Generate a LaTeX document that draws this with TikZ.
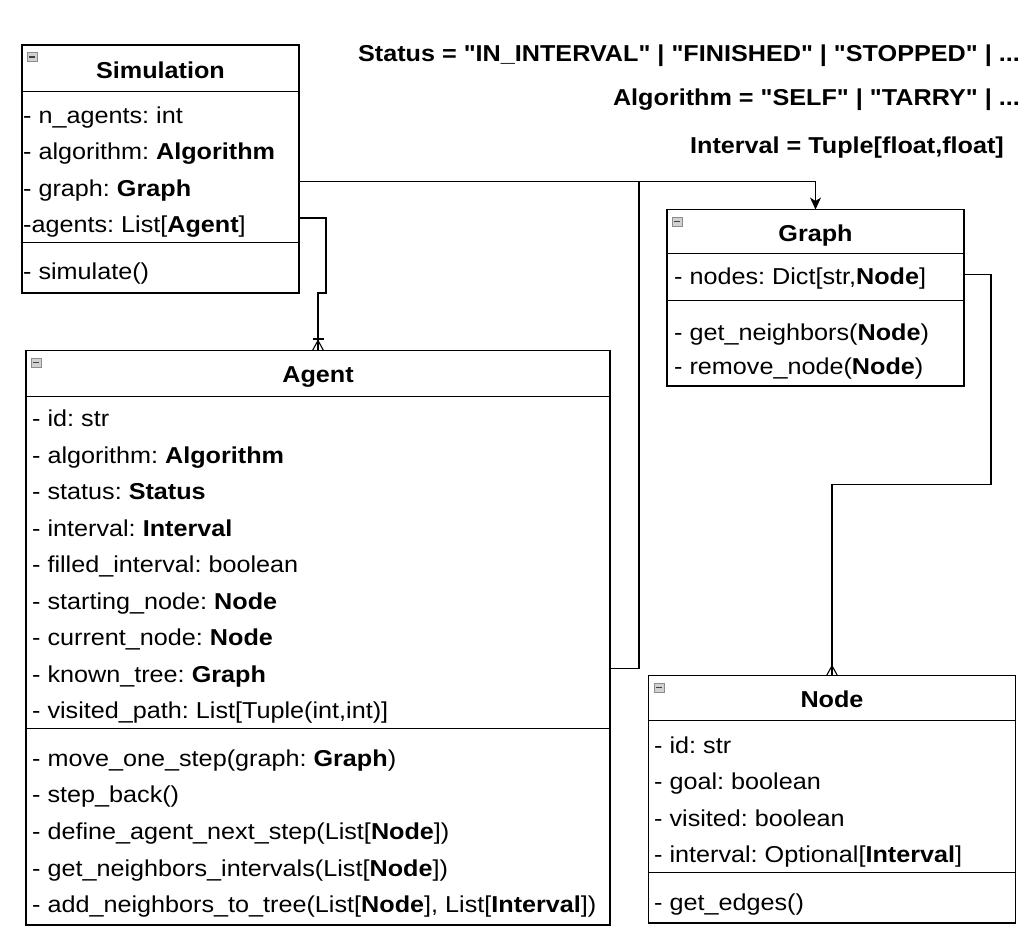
\documentclass[tikz,border=0pt]{standalone}
\usepackage{fontspec}
\setmainfont{Liberation Sans}[FakeStretch=1.095,Ligatures=TeXOff]
\usetikzlibrary{calc,arrows.meta}
\frenchspacing

\begin{document}
\begin{tikzpicture}[x=1pt,y=-1pt,>={Stealth[length=12pt,width=11pt,inset=3.5pt]},
	font=\fontsize{23}{28}\selectfont,
	classbox/.style={draw,line width=1.2pt,anchor=north west,inner sep=0pt,outer sep=0pt},
	row/.style={anchor=base west,inner sep=0pt},
	head/.style={anchor=base,inner sep=0pt,font=\fontsize{23}{28}\selectfont\bfseries},
	typedef/.style={anchor=base east,inner sep=0pt,font=\fontsize{23}{28}\selectfont\bfseries},
	minusbox/.style={draw=black!45,fill=black!18,line width=0.6pt,anchor=north west,inner sep=0pt,minimum width=10pt,minimum height=9pt},
	link/.style={line width=1.1pt}]
	\useasboundingbox (0,0) rectangle (1032,940);

	% type definitions on the top right
	\node[typedef] (StatusDef) at (1020,61.7) {Status = "IN\_INTERVAL" | "FINISHED" | "STOPPED" | ...};
	\node[typedef] (AlgoDef) at (1020,105) {Algorithm = "SELF" | "TARRY" | ...};
	\node[typedef] (IntervalDef) at (1004,153) {Interval = Tuple[float,float]};

	% Simulation class
	\node[classbox,minimum width=277pt,minimum height=248pt] (Sim) at (22,45) {};
	\node[head] (SimT) at (Sim.north |- 0,78.5) {Simulation};
	\draw (Sim.west |- 0,91) -- (Sim.east |- 0,91);
	\node[row] (SimA1) at (23,123.3) {- n\_agents: int};
	\node[row] (SimA2) at (23,159.3) {- algorithm: \textbf{Algorithm}};
	\node[row] (SimA3) at (23,196) {- graph: \textbf{Graph}};
	\node[row] (SimA4) at (23,232.7) {-agents: List[\textbf{Agent}]};
	\draw (Sim.west |- 0,242) -- (Sim.east |- 0,242);
	\node[row] (SimM1) at (23,279.3) {- simulate()};

	% Agent class
	\node[classbox,minimum width=584pt,minimum height=574.5pt] (Agent) at (26,350.5) {};
	\node[head] (AgentT) at (Agent.north |- 0,382.5) {Agent};
	\draw (Agent.west |- 0,396) -- (Agent.east |- 0,396);
	\node[row] (AgentA1) at (32,426.5) {- id: str};
	\node[row] (AgentA2) at (32,463) {- algorithm: \textbf{Algorithm}};
	\node[row] (AgentA3) at (32,499.5) {- status: \textbf{Status}};
	\node[row] (AgentA4) at (32,536) {- interval: \textbf{Interval}};
	\node[row] (AgentA5) at (32,572.5) {- filled\_interval: boolean};
	\node[row] (AgentA6) at (32,609) {- starting\_node: \textbf{Node}};
	\node[row] (AgentA7) at (32,645.5) {- current\_node: \textbf{Node}};
	\node[row] (AgentA8) at (32,682) {- known\_tree: \textbf{Graph}};
	\node[row] (AgentA9) at (32,718.5) {- visited\_path: List[Tuple(int,int)]};
	\draw (Agent.west |- 0,728.5) -- (Agent.east |- 0,728.5);
	\node[row] (AgentM1) at (32,766) {- move\_one\_step(graph: \textbf{Graph})};
	\node[row] (AgentM2) at (32,802.7) {- step\_back()};
	\node[row] (AgentM3) at (32,839.3) {- define\_agent\_next\_step(List[\textbf{Node}])};
	\node[row] (AgentM4) at (32,876) {- get\_neighbors\_intervals(List[\textbf{Node}])};
	\node[row] (AgentM5) at (32,912.7) {- add\_neighbors\_to\_tree(List[\textbf{Node}], List[\textbf{Interval}])};

	% Graph class
	\node[classbox,minimum width=297pt,minimum height=176.5pt] (Graph) at (667,209.5) {};
	\node[head] (GraphT) at (Graph.north |- 0,241.7) {Graph};
	\draw (Graph.west |- 0,252.7) -- (Graph.east |- 0,252.7);
	\node[row] (GraphA1) at (674,284) {- nodes: Dict[str,\textbf{Node}]};
	\draw (Graph.west |- 0,300) -- (Graph.east |- 0,300);
	\node[row] (GraphM1) at (674,340) {- get\_neighbors(\textbf{Node})};
	\node[row] (GraphM2) at (674,374) {- remove\_node(\textbf{Node})};

	% Node class
	\node[classbox,minimum width=367pt,minimum height=247.3pt] (Node) at (648.5,675.7) {};
	\node[head] (NodeT) at (Node.north |- 0,707.3) {Node};
	\draw (Node.west |- 0,720) -- (Node.east |- 0,720);
	\node[row] (NodeA1) at (654,753.3) {- id: str};
	\node[row] (NodeA2) at (654,789.3) {- goal: boolean};
	\node[row] (NodeA3) at (654,826) {- visited: boolean};
	\node[row] (NodeA4) at (654,862.7) {- interval: Optional[\textbf{Interval}]};
	\draw (Node.west |- 0,872) -- (Node.east |- 0,872);
	\node[row] (NodeM1) at (654,910) {- get\_edges()};

	% collapse buttons in the corners
	\foreach \cls in {Sim,Agent,Graph,Node}
		\node[minusbox] (\cls Min) at ($(\cls.north west)+(5,7)$) {\color{black!75}\rule{6pt}{1.6pt}};

	% Simulation -> Graph, Agent joins in at J
	\coordinate (J) at (639,181.5);
	\draw[link,->] ($(Sim.north east)+(0,136.5)$) -| (Graph.north);
	\draw[link] ($(Agent.north east)+(0,318)$) -| (J);

	% Simulation -> Agent (one or many)
	\draw[link] ($(Sim.north east)+(0,173)$) -| ++(27,75) -| (Agent.north);
	\draw[link] ($(Agent.north)+(-5.5,-11.5)$) -- ++(11,0);
	\draw[link] ($(Agent.north)+(-5.5,0)$) -- ++(5.5,-10) -- ++(5.5,10);

	% Graph -> Node (many)
	\draw[link] ($(Graph.north east)+(0,65)$) -| ++(27,210) -| (Node.north);
	\draw[link] ($(Node.north)+(-5.5,0)$) -- ++(5.5,-10) -- ++(5.5,10);
\end{tikzpicture}
\end{document}
